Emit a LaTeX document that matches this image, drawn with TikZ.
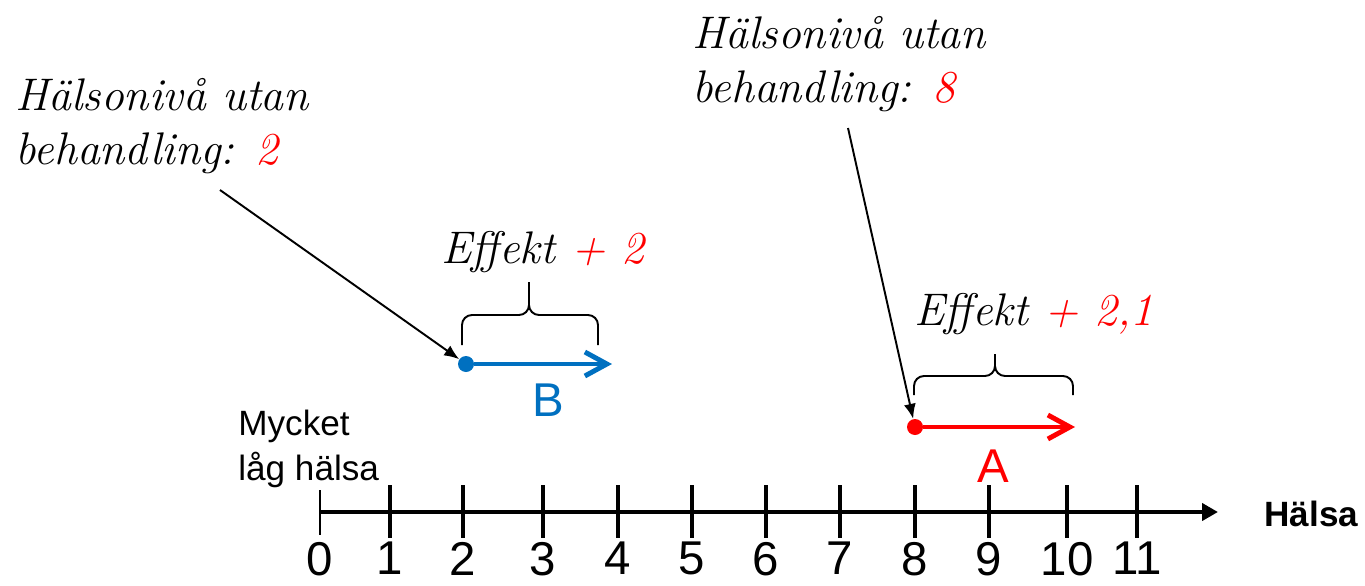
\documentclass[tikz,border=0pt]{standalone}
\usepackage{fontspec}
\setsansfont{Liberation Sans}
\usetikzlibrary{arrows.meta, positioning, calc}
\definecolor{effblue}{RGB}{0,112,192}

\begin{document}
\begin{tikzpicture}[
    x=0.02cm, y=-0.02cm,
    hand/.style={font=\fontsize{26}{31}\selectfont\itshape, align=left, inner sep=0pt},
    plain/.style={font=\sffamily\fontsize{20}{25.6}\selectfont, align=left, inner sep=0pt},
    num/.style={font=\sffamily\fontsize{27}{30}\selectfont, inner sep=0pt, anchor=north},
    tickmark/.style={line width=2.8pt},
    axis/.style={line width=2.3pt, -{Triangle[length=3.2mm, width=3.4mm]}},
    dot/.style={circle, inner sep=0pt, minimum size=0.32cm},
    effarrow/.style={line width=2.8pt, -{Straight Barb[length=4.4mm, width=4.8mm]}},
    pointer/.style={line width=1.1pt, -{Latex[length=3mm, width=2.4mm]}},
    brace/.style={line width=1.1pt, rounded corners=0.2cm}
]
    \useasboundingbox (0,0) rectangle (1365,585);

    % health axis
    \coordinate (o) at (320,512);
    \coordinate (hx) at (1218,512);
    \draw[axis] (o) -- (hx);
    \node[font=\sffamily\bfseries\fontsize{20}{24}\selectfont, inner sep=0pt, anchor=west] (halsa) at (1264,514) {Hälsa};
    \draw[line width=1.6pt] (320,490) -- (320,535);
    \node[num] (n0) at (320,542) {0};
    \foreach \x/\n in {390/1, 463/2, 543/3, 618/4, 692/5, 766/6, 840/7, 915/8, 989/9, 1067/10, 1137/11} {
        \draw[tickmark] (\x,485) -- (\x,538);
        \node[num] (n\n) at (\x,542) {\n};
    }
    \node[plain, anchor=north west] (low) at (238,410) {Mycket\\låg hälsa};

    % treatment B
    \node[dot, fill=effblue] (pB) at (466,364) {};
    \coordinate (eB) at (612,364);
    \draw[effarrow, effblue] (pB) -- (eB);
    \node[font=\sffamily\fontsize{27}{32}\selectfont, text=effblue, inner sep=0pt] (labB) at (548,400) {B};
    \draw[brace] (462,345) -- (462,315) -- (529,315) -- (529,282);
    \draw[brace] (598,345) -- (598,315) -- (529,315) -- (529,282);
    \node[hand, anchor=base] (effB) at (543,263) {Effekt \textcolor{red}{+ 2}};
    \node[hand, anchor=north west] (noteB) at (15,78) {Hälsonivå utan\\behandling: \textcolor{red}{2}};
    \coordinate (sB) at (220,190);
    \draw[pointer] (sB) -- (pB);

    % treatment A
    \node[dot, fill=red] (pA) at (915,427) {};
    \coordinate (eA) at (1075,427);
    \draw[effarrow, red] (pA) -- (eA);
    \node[font=\sffamily\fontsize{27}{32}\selectfont, text=red, inner sep=0pt] (labA) at (993,466) {A};
    \draw[brace] (914,395) -- (914,376) -- (995,376) -- (995,354);
    \draw[brace] (1073,395) -- (1073,376) -- (995,376) -- (995,354);
    \node[hand, anchor=base] (effA) at (1034,325) {Effekt \textcolor{red}{+ 2,1}};
    \node[hand, anchor=north west] (noteA) at (692,16) {Hälsonivå utan\\behandling: \textcolor{red}{8}};
    \coordinate (sA) at (848,128);
    \draw[pointer] (sA) -- (pA);
\end{tikzpicture}
\end{document}
